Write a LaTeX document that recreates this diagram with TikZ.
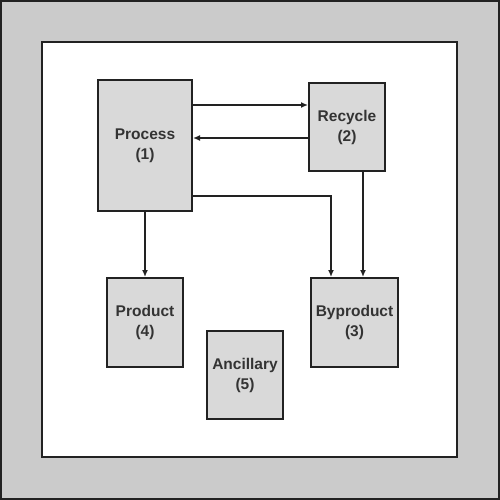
\documentclass[tikz,border=0pt]{standalone}
\usepackage{fontspec}
\setmainfont{Liberation Sans}
\usetikzlibrary{calc,arrows.meta}
\definecolor{outergray}{HTML}{CBCBCB}
\definecolor{boxgray}{HTML}{D9D9D9}
\definecolor{edge}{HTML}{222222}
\definecolor{txt}{HTML}{333333}
\tikzset{
  unitbox/.style={draw=edge, line width=2pt, fill=boxgray, inner sep=0pt,
    align=center, text=txt, font=\fontsize{15.5}{20}\selectfont\bfseries},
  arr/.style={draw=edge, line width=1.8pt, -{Latex[length=7pt,width=6pt]}}
}
\begin{document}
\begin{tikzpicture}[x=1pt,y=-1pt]
\useasboundingbox (0,0) rectangle (500,500);
\fill[outergray] (0,0) rectangle (500,500);
\draw[edge, line width=2pt] (1,1) rectangle (499,499);
\draw[edge, line width=2pt, fill=white] (42,42) rectangle (457,457);
\node[unitbox, minimum width=94pt, minimum height=131pt] (proc) at (145,145.5) {Process\\(1)};
\node[unitbox, minimum width=76pt, minimum height=88pt] (rec) at (347,127) {Recycle\\(2)};
\node[unitbox, minimum width=76pt, minimum height=89pt] (prod) at (145,322.5) {Product\\(4)};
\node[unitbox, minimum width=87pt, minimum height=89pt] (byp) at (354.5,322.5) {Byproduct\\(3)};
\node[unitbox, minimum width=76pt, minimum height=88pt] (anc) at (245,375) {Ancillary\\(5)};
\draw[arr] ($(proc.north east)+(0,26)$) coordinate (p1) -- (p1 -| rec.west);
\draw[arr] ($(rec.north west)+(0,56)$) coordinate (r1) -- (r1 -| proc.east);
\draw[arr] (proc.south) -- (prod.north);
\draw[arr] ($(proc.north east)+(0,117)$) -| ($(byp.north west)+(21,0)$);
\draw[arr] ($(rec.south)+(16,0)$) coordinate (r2) -- (r2 |- byp.north);
\end{tikzpicture}
\end{document}
